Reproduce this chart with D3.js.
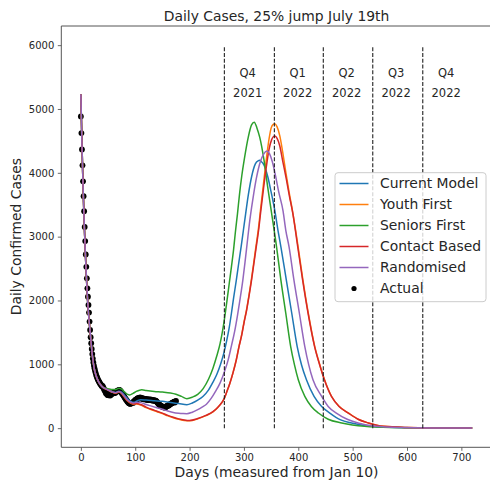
<!DOCTYPE html>
<html>
<head>
<meta charset="utf-8">
<script src="https://cdn.jsdelivr.net/npm/d3@7"></script>
<style>
  html, body { margin: 0; padding: 0; background: #fff; }
  svg { display: block; font-family: "DejaVu Sans", sans-serif; }
</style>
</head>
<body>
<svg id="chart" width="490" height="485"></svg>
<script>
// Daily confirmed cases since Jan 10 (day 0)
const actualCases = [
  4883, 4622, 4367, 4117, 3867, 3633, 3398, 3153, 2930, 2722,
  2528, 2347, 2190, 2060, 1930, 1810, 1669, 1539, 1425, 1331,
  1240, 1160, 1090, 1030, 980, 940, 905, 870, 840, 815,
  790, 770, 750, 735, 720, 705, 690, 680, 665, 655,
  660, 640, 625, 600, 590, 575, 545, 560, 530, 520,
  525, 515, 520, 530, 510, 525, 540, 535, 545, 550,
  545, 555, 560, 550, 565, 570, 580, 575, 590, 585,
  595, 600, 590, 580, 570, 555, 540, 530, 520, 505,
  490, 475, 460, 450, 440, 425, 415, 405, 395, 390,
  385, 380, 390, 395, 400, 405, 395, 410, 420, 430,
  440, 445, 450, 455, 465, 470, 460, 475, 470, 480,
  470, 465, 475, 460, 455, 465, 460, 450, 455, 460,
  450, 445, 455, 440, 450, 445, 440, 450, 445, 440,
  445, 435, 440, 430, 435, 440, 430, 425, 430, 420,
  410, 400, 390, 380, 370, 365, 360, 350, 345, 340,
  335, 330, 335, 325, 330, 320, 330, 340, 345, 350,
  355, 350, 360, 365, 375, 380, 385, 390, 395, 400,
  405, 410, 415, 400, 420, 425
];

// Fitted decline shared by every scenario, [day, cases]
const sharedStart = [[0,5230],[2,4450],[4,3800],[6,3250],[8,2800],[10,2400],[12,2060],[14,1800],[16,1600],[18,1420],[21,1150],[24,960],[28,820],[33,720],[38,660],[42,630]];

// Scenario projections after the shared fit, [day, cases]
const currentModel = [[46,620],[52,595],[58,570],[64,560],[70,580],[75,565],[80,520],[86,460],[92,420],[97,405],[103,425],[110,445],[120,440],[135,430],[150,420],[165,400],[180,385],[195,368],[205,395],[215,440],[225,500],[235,600],[243,720],[250,840],[257,1000],[263,1175],[268,1360],[273,1580],[277,1800],[281,2040],[286,2320],[290,2560],[295,2850],[299,3100],[303,3350],[308,3650],[314,3935],[321,4140],[326,4188],[329,4195],[332,4175],[335,4150],[339,4080],[344,3935],[350,3700],[357,3400],[363,3080],[368,2841],[378,2320],[388,1800],[398,1278],[406,990],[415,758],[429,497],[443,340],[458,237],[478,130],[498,81],[535,28],[580,10],[650,4],[720,2]];

const youthFirst = [[46,612],[52,588],[58,562],[64,548],[70,568],[75,542],[80,486],[86,425],[92,390],[97,375],[103,378],[110,362],[120,322],[130,288],[140,258],[150,228],[160,193],[170,163],[180,138],[190,121],[200,114],[215,145],[230,196],[243,255],[252,325],[259,395],[264,468],[268,558],[274,700],[280,872],[286,1075],[291,1285],[296,1470],[300,1655],[305,1865],[309,2070],[314,2345],[318,2590],[322,2840],[327,3150],[331,3460],[336,3830],[341,4200],[346,4520],[350,4700],[354,4760],[357,4769],[361,4720],[366,4580],[371,4340],[377,4010],[383,3700],[389,3420],[399,2880],[408,2350],[418,1820],[430,1290],[439,1010],[448,765],[461,500],[475,342],[492,238],[510,140],[529,81],[556,28],[600,10],[650,4],[720,2]];

const seniorsFirst = [[46,625],[52,615],[58,605],[64,605],[70,625],[75,610],[80,570],[86,528],[90,520],[96,545],[102,575],[108,595],[112,600],[120,590],[135,575],[150,565],[165,550],[175,530],[185,498],[195,462],[205,485],[215,530],[225,620],[235,770],[243,940],[250,1130],[256,1320],[261,1540],[265,1760],[269,2008],[273,2270],[277,2528],[281,2800],[284,3050],[288,3350],[292,3675],[296,3950],[301,4230],[308,4560],[314,4750],[319,4794],[324,4700],[329,4560],[337,4195],[344,3760],[351,3362],[360,2841],[368,2320],[377,1800],[386,1278],[393,990],[400,758],[412,497],[424,340],[437,237],[455,140],[480,81],[522,28],[570,10],[640,4],[720,2]];

const contactBased = [[46,615],[52,590],[58,565],[64,550],[70,570],[75,545],[80,490],[86,430],[92,395],[97,380],[103,385],[110,370],[120,330],[130,295],[140,265],[150,235],[160,200],[170,170],[180,145],[190,128],[200,120],[215,150],[230,200],[243,258],[252,328],[259,398],[264,470],[268,560],[274,700],[280,870],[286,1070],[291,1278],[296,1460],[300,1643],[305,1850],[309,2050],[314,2320],[318,2560],[322,2800],[327,3100],[331,3400],[336,3750],[341,4080],[346,4360],[351,4520],[354,4565],[357,4575],[361,4540],[366,4420],[371,4200],[378,3900],[384,3620],[390,3362],[399,2841],[408,2320],[418,1800],[430,1278],[439,1000],[448,758],[461,497],[475,340],[492,237],[510,140],[529,81],[556,28],[600,10],[650,4],[720,2]];

const randomised = [[46,615],[52,590],[58,565],[64,555],[70,575],[75,550],[80,500],[86,440],[92,405],[97,395],[103,405],[110,400],[120,370],[130,345],[140,320],[150,295],[160,268],[170,245],[180,233],[188,228],[195,226],[205,250],[215,290],[223,330],[231,375],[240,470],[248,580],[256,706],[264,880],[271,1070],[277,1290],[283,1520],[288,1760],[293,2030],[298,2320],[302,2600],[306,2900],[310,3200],[314,3450],[318,3675],[323,3920],[330,4170],[336,4290],[342,4340],[347,4300],[352,4180],[358,3960],[364,3700],[372,3400],[377,3100],[383,2841],[392,2320],[402,1800],[412,1278],[419,1000],[427,758],[443,497],[455,340],[470,237],[490,140],[510,81],[541,28],[590,10],[650,4],[720,2]];

const seriesNames = ["Current Model", "Youth First", "Seniors First", "Contact Based", "Randomised"];
const seriesColors = ["#1f77b4", "#ff7f0e", "#2ca02c", "#d62728", "#9467bd"];
const seriesData = [currentModel, youthFirst, seniorsFirst, contactBased, randomised];

// Quarter boundaries (days after Jan 10) and their labels
const quarterStarts = [264, 356, 446, 537, 629];
const quarterNames = ["Q4", "Q1", "Q2", "Q3", "Q4"];
const quarterYears = ["2021", "2022", "2022", "2022", "2022"];

const xTicks = [0, 100, 200, 300, 400, 500, 600, 700];
const yTicks = [0, 1000, 2000, 3000, 4000, 5000, 6000];

const svg = d3.select("#chart");
const plot = { left: 61.3, right: 491.8, top: 26, bottom: 447.3 };
const textColor = "#262626";

const x = d3.scaleLinear().domain([-36, 756]).range([plot.left, plot.right]);
const y = d3.scaleLinear().domain([-300, 6300]).range([plot.bottom, plot.top]);

// Axes
const xAxis = svg.append("g")
  .attr("transform", `translate(0,${plot.bottom})`)
  .call(d3.axisBottom(x).tickValues(xTicks).tickSize(3.5).tickPadding(3.5).tickFormat(d3.format("d")));
const yAxis = svg.append("g")
  .attr("transform", `translate(${plot.left},0)`)
  .call(d3.axisLeft(y).tickValues(yTicks).tickSize(3.5).tickPadding(3.5).tickFormat(d3.format("d")));
[xAxis, yAxis].forEach(g => {
  g.select(".domain").remove();
  g.selectAll(".tick line").attr("stroke", "#444").attr("stroke-width", 0.8);
  g.selectAll(".tick text").attr("fill", textColor)
    .style("font-family", "DejaVu Sans").style("font-size", "10px");
});

// Observed cases
svg.append("g").selectAll("circle")
  .data(actualCases)
  .join("circle")
  .attr("cx", (d, i) => x(i))
  .attr("cy", d => y(d))
  .attr("r", 2.9)
  .attr("fill", "#000");

// Scenario curves
const line = d3.line()
  .x(d => x(d[0]))
  .y(d => y(d[1]))
  .curve(d3.curveMonotoneX);

seriesData.forEach((s, i) => {
  svg.append("path")
    .datum(sharedStart.concat(s))
    .attr("fill", "none")
    .attr("stroke", seriesColors[i])
    .attr("stroke-width", 1.5)
    .attr("stroke-linejoin", "round")
    .attr("d", line);
});

// Quarter markers
svg.append("g").selectAll("line")
  .data(quarterStarts)
  .join("line")
  .attr("x1", d => x(d)).attr("x2", d => x(d))
  .attr("y1", y(0)).attr("y2", y(6000))
  .attr("stroke", "#222")
  .attr("stroke-width", 1.1)
  .attr("stroke-dasharray", "4,1.8");

const qLabels = svg.append("g").attr("fill", textColor)
  .style("font-size", "11.5px").attr("text-anchor", "middle");
quarterStarts.forEach((d, i) => {
  qLabels.append("text").attr("x", x(d + 43)).attr("y", y(5500)).text(quarterNames[i]);
  qLabels.append("text").attr("x", x(d + 43)).attr("y", y(5195)).text(quarterYears[i]);
});

// Frame (left, bottom, top)
const spine = svg.append("g").attr("stroke", "#555").attr("stroke-width", 1);
spine.append("line").attr("x1", plot.left).attr("x2", plot.left).attr("y1", plot.top).attr("y2", plot.bottom);
spine.append("line").attr("x1", plot.left).attr("x2", plot.right).attr("y1", plot.bottom).attr("y2", plot.bottom);
spine.append("line").attr("x1", plot.left).attr("x2", plot.right).attr("y1", plot.top).attr("y2", plot.top);
spine.append("line").attr("x1", plot.right).attr("x2", plot.right).attr("y1", plot.top).attr("y2", plot.bottom);

// Title and axis labels
svg.append("text")
  .attr("x", (plot.left + plot.right) / 2).attr("y", 20.5)
  .attr("text-anchor", "middle").attr("fill", textColor)
  .style("font-size", "13.9px")
  .text("Daily Cases, 25% jump July 19th");
svg.append("text")
  .attr("x", (plot.left + plot.right) / 2).attr("y", 477)
  .attr("text-anchor", "middle").attr("fill", textColor)
  .style("font-size", "13.9px")
  .text("Days (measured from Jan 10)");
svg.append("text")
  .attr("transform", `translate(21,${(plot.top + plot.bottom) / 2}) rotate(-90)`)
  .attr("text-anchor", "middle").attr("fill", textColor)
  .style("font-size", "13.9px")
  .text("Daily Confirmed Cases");

// Legend
const legend = svg.append("g").attr("transform", "translate(335,172.7)");
legend.append("rect")
  .attr("width", 151).attr("height", 129)
  .attr("rx", 3).attr("ry", 3)
  .attr("fill", "#fff").attr("fill-opacity", 0.8)
  .attr("stroke", "#ccc").attr("stroke-width", 1);
const entryY = i => 10.8 + i * 21;
seriesNames.forEach((name, i) => {
  legend.append("line")
    .attr("x1", 4.5).attr("x2", 33.5)
    .attr("y1", entryY(i)).attr("y2", entryY(i))
    .attr("stroke", seriesColors[i]).attr("stroke-width", 1.5);
  legend.append("text")
    .attr("x", 45).attr("y", entryY(i) + 5)
    .attr("fill", textColor).style("font-size", "13.9px")
    .text(name);
});
legend.append("circle")
  .attr("cx", 19).attr("cy", entryY(5)).attr("r", 2.6).attr("fill", "#000");
legend.append("text")
  .attr("x", 45).attr("y", entryY(5) + 5)
  .attr("fill", textColor).style("font-size", "13.9px")
  .text("Actual");
</script>
</body>
</html>
